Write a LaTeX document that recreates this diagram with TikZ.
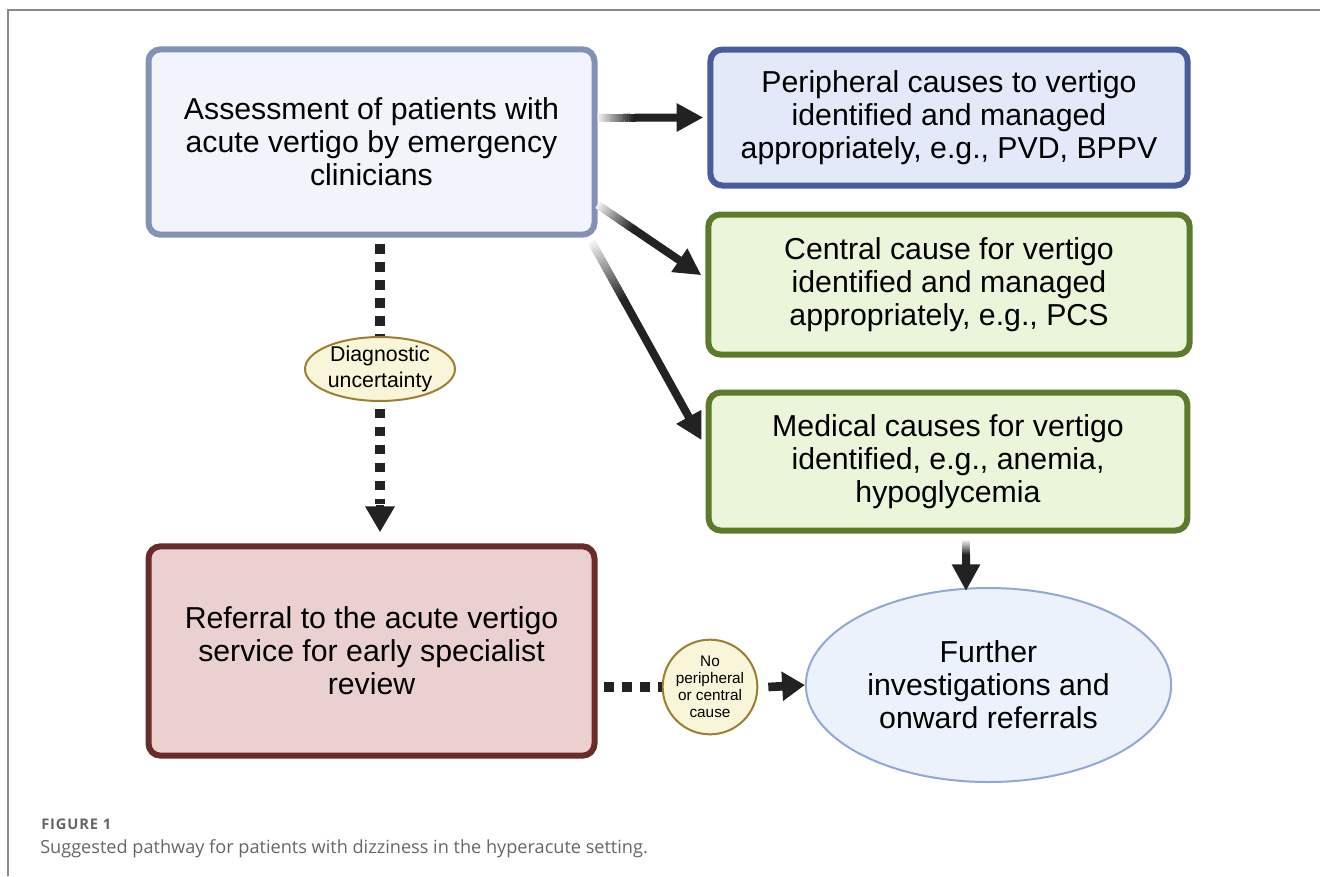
\documentclass[tikz,border=0pt]{standalone}
\usepackage{fontspec}
\setmainfont{Liberation Sans}
\newfontfamily\capfont{Open Sans}
\newfontfamily\figfont[LetterSpace=6]{Open Sans}
\usetikzlibrary{arrows.meta,calc,shapes.geometric}
\definecolor{aBorder}{HTML}{8391B5}
\definecolor{aFill}{HTML}{F1F4FA}
\definecolor{bBorder}{HTML}{4A5B9C}
\definecolor{bFill}{HTML}{E3E9F8}
\definecolor{gBorder}{HTML}{5B7B2A}
\definecolor{gFill}{HTML}{EAF5DA}
\definecolor{eBorder}{HTML}{6A2B2B}
\definecolor{eFill}{HTML}{EBD0D0}
\definecolor{fBorder}{HTML}{8FA8D8}
\definecolor{fFill}{HTML}{EBF2FB}
\definecolor{yBorder}{HTML}{9C7E30}
\definecolor{yFill}{HTML}{F8F5D8}
\definecolor{arrowc}{HTML}{222222}
\definecolor{frameg}{HTML}{8A8A8A}
\definecolor{capg}{HTML}{666666}
\tikzset{
  mainfont/.style={font=\fontsize{22.7}{24.75}\selectfont},
  box/.style={rectangle, rounded corners=9pt, line width=4.5pt, align=center,
    inner sep=0pt, mainfont},
  tag/.style={ellipse, line width=1.5pt, draw=yBorder, fill=yFill, align=center, inner sep=0pt},
  solidarrow/.style={line width=6pt, draw=arrowc, -{Triangle[width=20pt,length=20pt]}},
  tiparrow/.style={line width=6.5pt, draw=arrowc, -{Triangle[width=21pt,length=19.5pt]}},
  dotline/.style={line width=7pt, draw=arrowc, dash pattern=on 7pt off 6.5pt},
}
\newcommand\gradarrow[3]{%
  \foreach \i in {0,...,19}{%
    \pgfmathsetmacro\ta{#3*\i/20}%
    \pgfmathsetmacro\tb{#3*(\i+1)/20+0.01}%
    \pgfmathsetmacro\pc{6+94*\i/19}%
    \draw[line width=6pt, draw=arrowc!\pc!white] ($(#1)!\ta!(#2)$) -- ($(#1)!\tb!(#2)$);
  }%
  \draw[solidarrow] ($(#1)!#3!(#2)$) -- (#2);
}
\begin{document}
\begin{tikzpicture}[x=0.75pt,y=-0.75pt]
\useasboundingbox (0,0) rectangle (1320,876);
\draw[frameg, line width=1.5pt] (8,876) -- (8,10) -- (1320,10);

\node[box, draw=aBorder, fill=aFill, minimum width=334.5pt, minimum height=139pt] (A) at (371.5,142)
  {Assessment of patients with\\acute vertigo by emergency\\clinicians};
\node[box, draw=bBorder, fill=bFill, minimum width=358pt, minimum height=102pt] (B) at (949,117.5)
  {Peripheral causes to vertigo\\identified and managed\\appropriately, e.g., PVD, BPPV};
\node[box, draw=gBorder, fill=gFill, minimum width=361pt, minimum height=105pt] (C) at (949,284.5)
  {Central cause for vertigo\\identified and managed\\appropriately, e.g., PCS};
\node[box, draw=gBorder, fill=gFill, minimum width=359pt, minimum height=103.5pt] (D) at (948,461.5)
  {Medical causes for vertigo\\identified, e.g., anemia,\\hypoglycemia};
\node[box, draw=eBorder, fill=eFill, minimum width=334.5pt, minimum height=157pt] (E) at (371.5,651)
  {Referral to the acute vertigo\\service for early specialist\\review};
\node[ellipse, draw=fBorder, fill=fFill, line width=1.5pt, inner sep=0pt, align=center,
  minimum width=274pt, minimum height=145.5pt, mainfont] (F) at (988.5,685)
  {Further\\investigations and\\onward referrals};
\node[tag, minimum width=112.5pt, minimum height=46.5pt, font=\fontsize{16}{19}\selectfont] (diag) at (380,369)
  {Diagnostic\\uncertainty};
\node[tag, circle, minimum size=71pt, font=\fontsize{11.5}{12.75}\selectfont] (nocause) at (710,687)
  {No\\peripheral\\or central\\cause};

% gradient arrows
\coordinate (ab0) at (A.east |- B.west);
\coordinate (ab1) at ([xshift=-3pt]B.west);
\gradarrow{ab0}{ab1}{0.35}
\coordinate (ac0) at ([yshift=-47pt]A.east);
\coordinate (ac1) at ([xshift=-3pt,yshift=7pt]C.west);
\gradarrow{ac0}{ac1}{0.35}
\coordinate (ad0) at ([xshift=-4.5pt,yshift=-3pt]A.south east);
\coordinate (ad1) at ([xshift=-3pt,yshift=16pt]D.west);
\gradarrow{ad0}{ad1}{0.3}
\coordinate (df0) at ([xshift=13.5pt,yshift=-5pt]D.south);
\coordinate (df1) at ([yshift=-3pt]df0 |- F.north);
\gradarrow{df0}{df1}{0.3}

% dotted connectors
\coordinate (v0) at ([yshift=-5pt]diag.north |- A.south);
\draw[dotline] (v0) -- (diag.north);
\coordinate (v2) at ([yshift=8.25pt]diag.south |- E.north);
\coordinate (v1) at ([yshift=20.5pt]v2);
\draw[dotline] ([yshift=-5pt]diag.south) -- ([yshift=1pt]v1);
\draw[tiparrow] (v1) -- (v2);

\coordinate (h0) at ([xshift=5pt]E.east |- nocause);
\draw[dotline] (h0) -- (nocause.west);
\coordinate (h1) at ([xshift=7.5pt]nocause.east);
\draw[line width=6.5pt, draw=arrowc, -{Triangle[width=21pt,length=17pt]}] (h1) -- (F.west);

% caption
\node[anchor=base west, inner sep=0pt, text=capg, font=\figfont\bfseries\fontsize{11}{13}\selectfont] (figlab) at (41,829) {FIGURE 1};
\node[anchor=base west, inner sep=0pt, text=capg, font=\capfont\fontsize{13.6}{16}\selectfont] (cap) at (40,853)
  {Suggested pathway for patients with dizziness in the hyperacute setting.};
\end{tikzpicture}
\end{document}
